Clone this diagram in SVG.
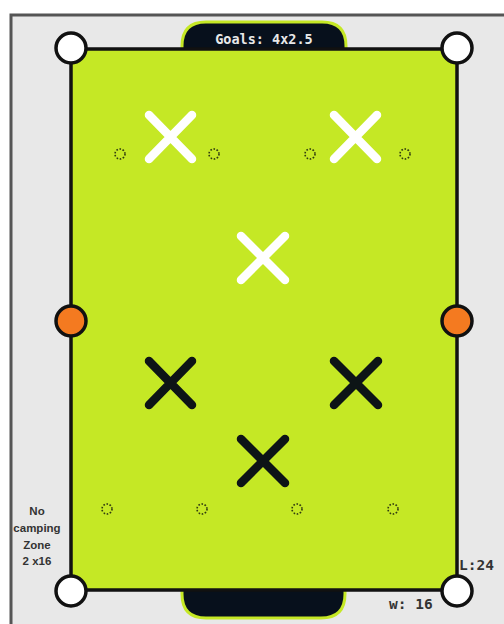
<svg xmlns="http://www.w3.org/2000/svg" width="504" height="624" viewBox="0 0 504 624">
<style>
.corner{fill:#fff;stroke:#111;stroke-width:3.5}
.mid{fill:#f47a20;stroke:#111;stroke-width:3.5}
.xw{stroke:#fff;stroke-width:8.5;stroke-linecap:round}
.xb{stroke:#0d1416;stroke-width:8.5;stroke-linecap:round}
.cone{fill:none;stroke:#2f3a10;stroke-width:1.6;stroke-dasharray:1.6 1.6}
.goal{fill:#07101c;stroke:#c5e825;stroke-width:3}
.mono{font-family:"DejaVu Sans Mono","Liberation Mono",monospace;font-weight:bold}
.lbl{font-family:"Liberation Sans",Arial,sans-serif;font-weight:bold;font-size:11.5px;fill:#333;text-anchor:middle}
</style>
<rect width="504" height="624" fill="#fff"/>
<rect id="frame" x="11" y="15" width="500" height="620" fill="#e8e8e8" stroke="#555" stroke-width="3"/>
<g id="goal-top">
<path class="goal" d="M182,50 L182,46 Q182,22 206,22 L322,22 Q346,22 346,46 L346,50 Z"/>
<text class="mono" x="264" y="44" font-size="13.5" fill="#e8e8e8" text-anchor="middle">Goals: 4x2.5</text>
</g>
<g id="goal-bottom">
<path class="goal" d="M182,589 L182,594 Q182,618 206,618 L321,618 Q345,618 345,594 L345,589 Z"/>
</g>
<g id="field">
<rect x="71" y="49" width="386" height="541" fill="#c5e825" stroke="#111" stroke-width="3.5"/>
</g>
<g id="corners">
<circle class="corner" cx="71" cy="48" r="15"/>
<circle class="corner" cx="457" cy="48" r="15"/>
<circle class="corner" cx="71" cy="591" r="15"/>
<circle class="corner" cx="457" cy="591" r="15"/>
</g>
<g id="midpoints">
<circle class="mid" cx="71" cy="321" r="15"/>
<circle class="mid" cx="457" cy="321" r="15"/>
</g>
<g id="white-players">
<path class="xw" d="M149,115 L192,159 M192,115 L149,159"/>
<path class="xw" d="M334,115 L377,159 M377,115 L334,159"/>
<path class="xw" d="M241,236 L285,280 M285,236 L241,280"/>
</g>
<g id="black-players">
<path class="xb" d="M149,361 L192,405 M192,361 L149,405"/>
<path class="xb" d="M334,361 L378,405 M378,361 L334,405"/>
<path class="xb" d="M241,439 L285,483 M285,439 L241,483"/>
</g>
<g id="cones">
<circle class="cone" cx="120" cy="154" r="5"/>
<circle class="cone" cx="214" cy="154" r="5"/>
<circle class="cone" cx="310" cy="154" r="5"/>
<circle class="cone" cx="405" cy="154" r="5"/>
<circle class="cone" cx="107" cy="509" r="5"/>
<circle class="cone" cx="202" cy="509" r="5"/>
<circle class="cone" cx="297" cy="509" r="5"/>
<circle class="cone" cx="393" cy="509" r="5"/>
</g>
<g id="labels">
<text class="lbl"><tspan x="37" y="515">No</tspan><tspan x="37" y="532">camping</tspan><tspan x="37" y="549">Zone</tspan><tspan x="37" y="565">2 x16</tspan></text>
<text class="mono" x="459" y="570" font-size="14.5" fill="#333">L:24</text>
<text class="mono" x="389" y="609" font-size="14.5" fill="#333">w: 16</text>
</g>
</svg>
